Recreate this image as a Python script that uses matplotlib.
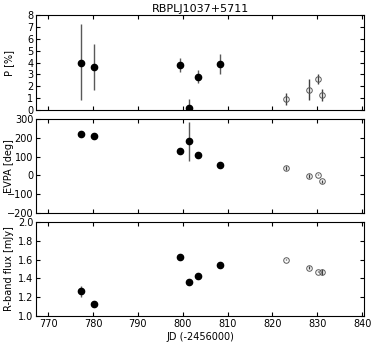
import numpy as np
import matplotlib
matplotlib.use("Agg")
import matplotlib.pyplot as plt

# dados: pontos cheios (RoboPol) e vazios
jd_c = [777.4, 780.3, 799.4, 801.3, 803.3, 808.2]
p_c = [3.98, 3.64, 3.81, 0.2, 2.82, 3.87]
p_c_lo = [3.16, 1.92, 0.56, 0.2, 0.53, 0.82]
p_c_hi = [3.25, 1.92, 0.59, 0.73, 0.57, 0.82]
evpa_c = [218, 207, 129, 181, 106, 53]
evpa_c_err = [15, 6, 6, 102, 6, 6]
flux_c = [1.264, 1.132, 1.629, 1.36, 1.43, 1.54]
flux_c_err = [0.06, 0.025, 0.01, 0.01, 0.01, 0.01]

jd_o = [823.1, 828.1, 830.1, 831.1]
p_o = [0.93, 1.72, 2.63, 1.27]
p_o_err = [0.52, 0.89, 0.4, 0.47]
evpa_o = [40, -2.5, 4.6, -31]
evpa_o_err = [9, 9, 3, 9]
flux_o = [1.6, 1.514, 1.471, 1.471]
flux_o_err = [0.005, 0.015, 0.005, 0.03]

plt.rcParams['font.size'] = 7

fig = plt.figure(figsize=(3.74, 3.45), dpi=100)
ax1 = fig.add_axes([0.0963, 0.681, 0.877, 0.275])
ax2 = fig.add_axes([0.0963, 0.3826, 0.877, 0.2725])
ax3 = fig.add_axes([0.0963, 0.084, 0.877, 0.2725])

cheio = dict(fmt='o', color='black', ecolor='0.35', ms=4.5, elinewidth=1, capsize=0)
vazio = dict(fmt='o', mfc='none', mec='0.35', color='0.35', ecolor='0.25', ms=4, mew=0.7, elinewidth=1, capsize=0)

ax1.errorbar(jd_c, p_c, yerr=[p_c_lo, p_c_hi], **cheio)
ax1.errorbar(jd_o, p_o, yerr=p_o_err, **vazio)
ax2.errorbar(jd_c, evpa_c, yerr=evpa_c_err, **cheio)
ax2.errorbar(jd_o, evpa_o, yerr=evpa_o_err, **vazio)
ax3.errorbar(jd_c, flux_c, yerr=flux_c_err, **cheio)
ax3.errorbar(jd_o, flux_o, yerr=flux_o_err, **vazio)

for ax in (ax1, ax2, ax3):
    ax.set_xlim(767.3, 840.4)
    ax.set_xticks(np.arange(770, 841, 10))
    ax.tick_params(direction='in', top=True, right=True, length=3, pad=2, labelsize=7)
    for s in ax.spines.values():
        s.set_linewidth(0.8)
ax1.tick_params(labelbottom=False)
ax2.tick_params(labelbottom=False)

ax1.set_ylim(0, 8)
ax1.set_yticks(np.arange(0, 9, 1))
ax2.set_ylim(-200, 300)
ax2.set_yticks(np.arange(-200, 301, 100))
ax3.set_ylim(1.0, 2.0)
ax3.set_yticks(np.arange(1.0, 2.01, 0.2))

ax1.set_ylabel('P [%]')
ax2.set_ylabel('EVPA [deg]')
ax3.set_ylabel('R-band flux [mJy]')
ax1.yaxis.set_label_coords(-0.066, 0.5)
ax2.yaxis.set_label_coords(-0.066, 0.5)
ax3.yaxis.set_label_coords(-0.068, 0.5)
ax3.set_xlabel('JD (-2456000)', labelpad=2)
ax1.set_title('RBPLJ1037+5711', fontsize=8, pad=2)

plt.savefig("out.png", dpi=100)
